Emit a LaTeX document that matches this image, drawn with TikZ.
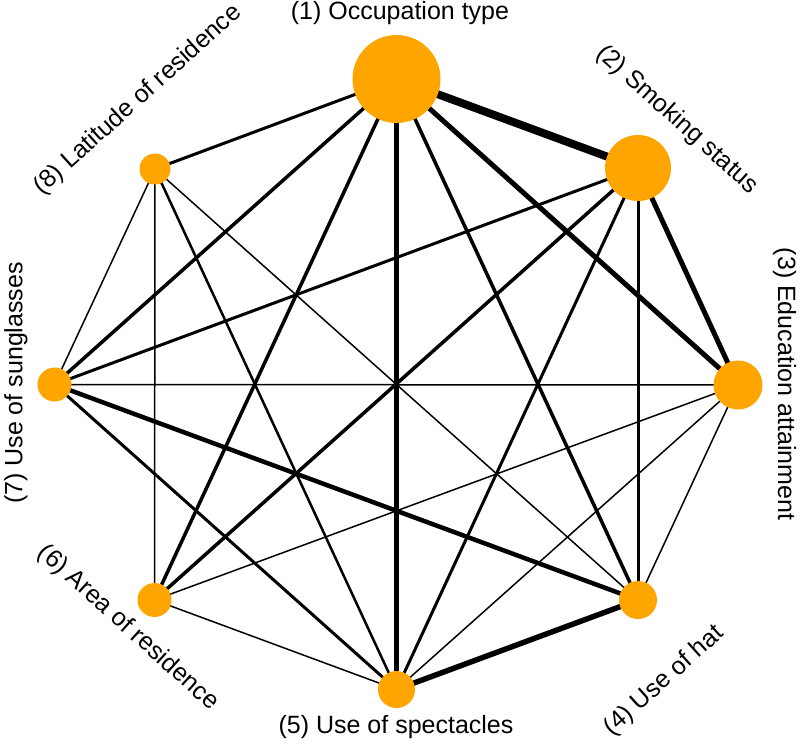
\documentclass[tikz,border=0pt]{standalone}
\usepackage{fontspec}
\setmainfont{Liberation Sans}
\usetikzlibrary{backgrounds}
\definecolor{nodeorange}{HTML}{FFA500}
\begin{document}
\begin{tikzpicture}[x=1pt,y=-1pt,
  vtx/.style={circle,fill=nodeorange,inner sep=0pt,minimum size=#1},
  lbl/.style={font=\fontsize{25}{30}\selectfont, inner sep=0pt},
  lnk/.style={line width=#1, draw=black}]
\useasboundingbox (0,0) rectangle (800,743);
\node[vtx=88pt] (n1) at (396.5,79) {};
\node[vtx=66pt] (n2) at (638,168) {};
\node[vtx=49pt] (n3) at (738,385) {};
\node[vtx=38pt] (n4) at (638,600) {};
\node[vtx=37pt] (n5) at (396.5,689.5) {};
\node[vtx=34pt] (n6) at (154.5,600) {};
\node[vtx=34pt] (n7) at (54.5,384.5) {};
\node[vtx=31pt] (n8) at (155,169) {};
\begin{pgfonlayer}{background}
\draw[lnk=8pt] (n1.center) -- (n2.center);
\draw[lnk=5pt] (n1.center) -- (n3.center);
\draw[lnk=3.5pt] (n1.center) -- (n4.center);
\draw[lnk=5pt] (n1.center) -- (n5.center);
\draw[lnk=3.5pt] (n1.center) -- (n6.center);
\draw[lnk=3.5pt] (n1.center) -- (n7.center);
\draw[lnk=3pt] (n1.center) -- (n8.center);
\draw[lnk=5pt] (n2.center) -- (n3.center);
\draw[lnk=3pt] (n2.center) -- (n4.center);
\draw[lnk=3pt] (n2.center) -- (n5.center);
\draw[lnk=3.5pt] (n2.center) -- (n6.center);
\draw[lnk=3pt] (n2.center) -- (n7.center);
\draw[lnk=1.5pt] (n3.center) -- (n4.center);
\draw[lnk=1.5pt] (n3.center) -- (n5.center);
\draw[lnk=1.5pt] (n3.center) -- (n6.center);
\draw[lnk=1.5pt] (n3.center) -- (n7.center);
\draw[lnk=5.5pt] (n4.center) -- (n5.center);
\draw[lnk=4.5pt] (n4.center) -- (n7.center);
\draw[lnk=1.5pt] (n4.center) -- (n8.center);
\draw[lnk=1.5pt] (n5.center) -- (n6.center);
\draw[lnk=3pt] (n5.center) -- (n7.center);
\draw[lnk=2.5pt] (n5.center) -- (n8.center);
\draw[lnk=1.5pt] (n6.center) -- (n8.center);
\draw[lnk=1.5pt] (n7.center) -- (n8.center);
\end{pgfonlayer}
\node[lbl] (l1) at (400,13) {(1) Occupation type};
\node[lbl,rotate=-42] (l2) at (677,120) {(2) Smoking status};
\node[lbl,rotate=-90] (l3) at (784.5,384) {(3) Education attainment};
\node[lbl,rotate=42] (l4) at (664,681) {(4) Use of hat};
\node[lbl] (l5) at (396,727) {(5) Use of spectacles};
\node[lbl,rotate=-42] (l6) at (128,628) {(6) Area of residence};
\node[lbl,rotate=90] (l7) at (16,383) {(7) Use of sunglasses};
\node[lbl,rotate=42] (l8) at (138,100) {(8) Latitude of residence};
\end{tikzpicture}
\end{document}
